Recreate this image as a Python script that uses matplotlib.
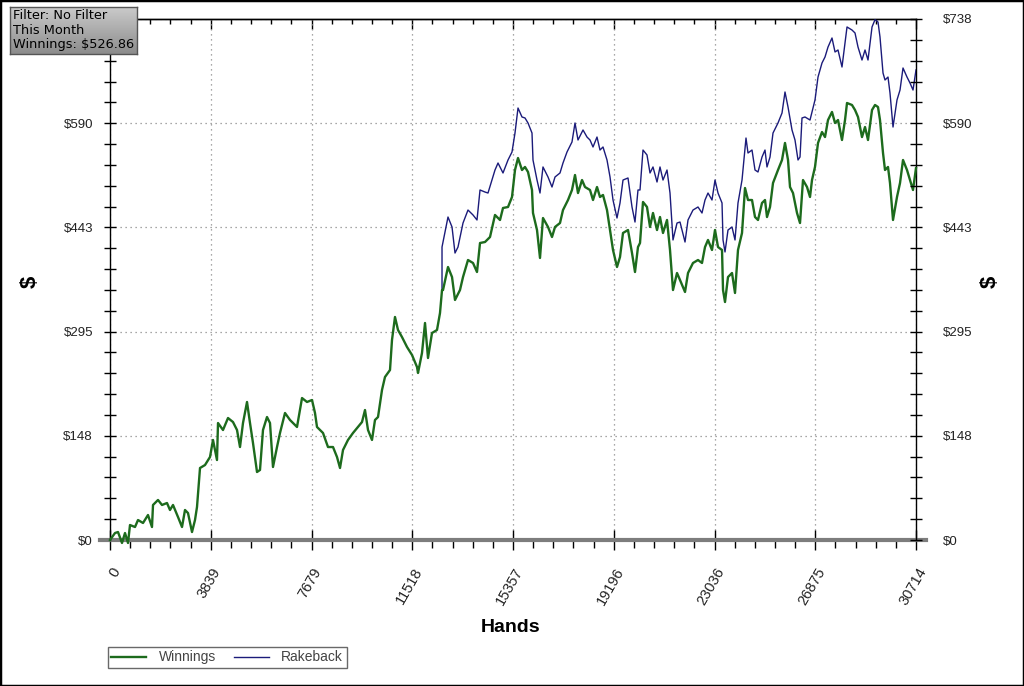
import matplotlib
matplotlib.use('Agg')
import matplotlib.pyplot as plt
import matplotlib.transforms as mtransforms
from matplotlib.colors import LinearSegmentedColormap
from matplotlib.lines import Line2D
from matplotlib.patches import Rectangle
from matplotlib.ticker import MultipleLocator
import numpy as np

plt.rcParams['font.family'] = ['Liberation Sans', 'DejaVu Sans']

# Cumulative winnings (green)
win_hands = [0, 191, 305, 457, 572, 686, 762, 953, 1067, 1258, 1448, 1600, 1639, 1829, 1982,
             2172, 2286, 2401, 2591, 2744, 2858, 2972, 3125, 3239, 3315, 3430, 3620, 3811, 3925,
             4077, 4116, 4306, 4497, 4687, 4840, 4954, 5068, 5221, 5335, 5449, 5602, 5716, 5830,
             5983, 6097, 6211, 6364, 6478, 6669, 6859,
             7126, 7317, 7507, 7698, 7812, 7888, 8117, 8307, 8498, 8650, 8765, 8879, 9069, 9260,
             9451, 9603, 9717, 9832, 9984, 10098, 10213, 10365, 10479, 10670, 10746, 10860, 10975,
             11127, 11318, 11508, 11699, 11737, 11889, 12004, 12118, 12270, 12461, 12575, 12652,
             12690, 12880, 13033, 13147, 13337, 13452, 13642, 13833, 13985, 14100, 14290, 14481,
             14671, 14862, 14976, 15167, 15319, 15433, 15548, 15700, 15814, 15929, 16081, 16119,
             16272, 16386, 16500, 16691, 16843, 16958, 17148, 17262, 17453, 17605, 17720, 17834,
             17987, 18101, 18291, 18406, 18558, 18672, 18787, 18939, 19054, 19168, 19320, 19435,
             19549, 19739, 19892, 20006, 20120,
             20197, 20311, 20463, 20578, 20692, 20845, 20959, 21073, 21226, 21340, 21454, 21607,
             21721, 21912, 22026, 22216, 22407, 22559, 22674, 22788, 22940, 23055, 23169, 23322,
             23360, 23436, 23550, 23703, 23817, 23931, 24084, 24198, 24312, 24465, 24579, 24693,
             24846, 24960, 25036, 25151, 25265, 25455, 25608, 25722, 25837, 25913, 26027, 26180,
             26294,
             26408, 26561, 26675, 26751, 26865, 26980, 27132, 27247, 27361, 27513, 27628, 27742,
             27894, 28009, 28085, 28275, 28390, 28504, 28656, 28771, 28885, 29038, 29152, 29266,
             29342, 29457, 29533, 29647, 29723, 29838, 29990, 30105, 30219, 30371, 30486, 30600,
             30714]
win_dollars = [0, 9.9, 11.3, -4.2, 9.9, -4.2, 21.2, 18.4, 28.3, 24.1, 35.4, 18.4, 49.6, 56.7, 49.6,
               52.4, 42.5, 49.6, 32.6, 18.4, 42.5, 38.2, 11.3, 28.3, 46.7, 102.0, 106.2, 117.6, 141.7,
               113.3, 165.7, 155.8, 172.8, 167.1, 155.8, 131.7, 165.7, 195.5, 165.7, 137.4, 96.3, 99.2,
               155.8, 174.2, 165.7, 103.4, 131.7, 151.6, 179.9, 170.0,
               160.1, 201.1, 195.5, 198.3, 179.9, 160.1, 151.6, 131.7, 131.7, 117.6, 102.0, 127.5,
               141.7, 151.6, 160.1, 167.1, 184.1, 155.8, 141.7, 170.0, 174.2, 212.5, 230.9, 240.8,
               283.3, 315.9, 297.5, 287.5, 273.4, 262.1, 245.1, 236.6, 264.9, 307.4, 257.8, 293.2,
               297.5, 321.5, 354.1,
               354.1, 386.7, 372.5, 340.0, 354.1, 372.5, 396.6, 392.4, 379.6, 420.7, 422.1, 429.2,
               460.4, 453.3, 470.3, 471.7, 485.9, 524.1, 541.1, 524.1, 528.4, 521.3, 495.8, 463.2,
               439.1, 399.5, 456.1, 443.4, 429.2, 443.4, 449.0, 467.4, 481.6, 495.8, 517.0, 491.5,
               509.9, 500.0, 495.8, 481.6, 500.0, 485.9, 488.7, 467.4, 439.1, 410.8, 386.7, 400.9,
               434.9, 439.1, 406.5, 379.6, 415.0,
               420.7, 478.8, 471.7, 443.4, 463.2, 439.1, 457.5, 434.9, 453.3, 410.8, 354.1, 378.2,
               368.3, 351.3, 378.2, 392.4, 396.6, 392.4, 415.0, 425.0, 410.8, 439.1, 415.0, 410.8,
               354.1, 337.1, 372.5, 378.2, 349.9, 410.8, 434.9, 498.6, 481.6, 481.6, 457.5, 453.3,
               477.4, 481.6, 457.5, 471.7, 505.7, 524.1, 538.3, 562.4, 538.3, 500.0, 491.5, 463.2,
               449.0,
               509.9, 500.0, 485.9, 509.9, 528.4, 562.4, 577.9, 570.8, 594.9, 606.3, 590.7, 594.9,
               566.6, 594.9, 619.0, 616.2, 609.1, 599.2, 570.8, 585.0, 566.6, 609.1, 616.2, 613.3,
               594.9, 548.2, 524.1, 528.4, 505.7, 453.3, 485.9, 505.7, 538.3, 524.1, 509.9, 495.8,
               526.86]

# Winnings + rakeback (navy), splits off from the green line around hand 12652
rb_hands = [12652, 12652,
            12690, 12880, 13033, 13147, 13261, 13452, 13642, 13833, 13985, 14100,
            14290, 14404, 14671, 14786, 14976, 15167, 15319, 15433, 15548, 15700,
            15814, 15929, 16081, 16119, 16272, 16386, 16500, 16691, 16843, 16958,
            17148, 17262, 17415, 17605, 17720, 17834, 18025, 18177, 18291, 18406,
            18558, 18672, 18787, 18939, 19054, 19168, 19320, 19435, 19549, 19739,
            19892, 20006, 20120, 20197, 20311, 20463, 20578, 20692, 20845, 20959,
            21073, 21226, 21340, 21454, 21607, 21721, 21912, 22026, 22216, 22407,
            22559, 22674, 22788, 22940, 23055, 23169, 23322, 23360, 23436, 23550,
            23703, 23817, 23931, 24084, 24236, 24312, 24465, 24579, 24693, 24846,
            24960, 25036, 25151, 25265, 25455, 25608, 25722, 25837, 25989, 26103,
            26218, 26294, 26370, 26484, 26675, 26865, 26980, 27132, 27247, 27361,
            27513, 27628, 27742, 27894, 28009, 28085, 28275, 28390, 28504, 28656,
            28771, 28885, 29038, 29152, 29266, 29342, 29457, 29533, 29647, 29723,
            29838, 29990, 30105, 30219, 30371, 30486, 30600, 30714]
rb_dollars = [354.1, 415.0,
              422.1, 457.5, 443.4, 406.5, 415.0, 449.0, 467.4, 460.4, 453.3, 495.8,
              492.9, 491.5, 524.1, 534.0, 519.9, 538.3, 549.6, 576.5, 611.9, 599.2,
              597.8, 590.7, 576.5, 538.3, 509.9, 491.5, 528.4, 514.2, 500.0, 514.2,
              519.9, 534.0, 549.6, 563.8, 590.7, 566.6, 580.8, 570.8, 566.6, 556.7,
              570.8, 552.4, 556.7, 538.3, 514.2, 481.6, 456.1, 477.4, 509.9, 512.8,
              471.7, 450.4, 495.8, 495.8, 552.4, 545.4, 519.9, 528.4, 507.1, 528.4,
              509.9, 524.1, 491.5, 425.0, 449.0, 450.4, 422.1, 453.3, 467.4, 471.7,
              463.2, 481.6, 491.5, 481.6, 509.9, 491.5, 477.4, 425.0, 408.0, 439.1,
              443.4, 425.0, 477.4, 509.9, 569.4, 548.2, 552.4, 524.1, 521.3, 542.5,
              552.4, 528.4, 542.5, 576.5, 590.7, 604.8, 634.6, 613.3, 580.8, 566.6,
              538.3, 542.5, 597.8, 599.2, 594.9, 623.3, 655.8, 675.7, 684.2, 698.3,
              711.1, 691.3, 694.1, 670.0, 704.0, 726.7, 722.4, 718.2, 698.3, 679.9,
              694.1, 679.9, 726.7, 737.0, 733.7, 712.5, 661.5, 651.6, 655.8, 633.2,
              585.0, 623.3, 637.4, 668.6, 655.8, 647.3, 637.4, 665.8]

x_max = 30714
y_max = 738
x_tick_labels = ['0', '3839', '7679', '11518', '15357', '19196', '23036', '26875', '30714']
y_tick_labels = ['$0', '$148', '$295', '$443', '$590', '$738']
filter_lines = ['Filter: No Filter', 'This Month', 'Winnings: $526.86']

GREEN = '#1d6b1d'
NAVY = '#1b1b7a'

fig = plt.figure(figsize=(10.24, 6.86), dpi=100)
fig.patch.set_facecolor('white')
ax = fig.add_axes([110 / 1024, 146 / 686, 806 / 1024, 521 / 686])

ax.plot(rb_hands, rb_dollars, color=NAVY, lw=1.0, zorder=3)
ax.plot(win_hands, win_dollars, color=GREEN, lw=1.7, zorder=4, clip_on=False)

ax.set_xlim(0, x_max)
ax.set_ylim(0, y_max)

xt = np.linspace(0, x_max, len(x_tick_labels))
yt = np.linspace(0, y_max, len(y_tick_labels))

ax.grid(True, which='major', color='#8a8a8a', linestyle=(0, (1, 3)), linewidth=0.9)
ax.set_axisbelow(True)

for s in ['left', 'right', 'top']:
    ax.spines[s].set_color('black')
    ax.spines[s].set_linewidth(1)
ax.spines['bottom'].set_visible(False)
# thick grey zero line, running a little past both axes
ax.plot([-0.012, 1.012], [0, 0], transform=ax.transAxes, color='#7d7d7d', lw=3,
        clip_on=False, zorder=2)

# x axis ticks (bottom)
ax.set_xticks(xt)
ax.set_xticklabels(x_tick_labels, rotation=60, ha='right', va='center',
                   rotation_mode='anchor', fontsize=10.5, color='#222222')
ax.xaxis.set_minor_locator(MultipleLocator(x_max / 40))
ax.tick_params(axis='x', which='major', direction='inout', length=15, width=1, pad=13)
ax.tick_params(axis='x', which='minor', direction='out', length=6, width=1)
shift = mtransforms.ScaledTranslation(7 / 100, 0, fig.dpi_scale_trans)
for lab in ax.get_xticklabels():
    lab.set_transform(lab.get_transform() + shift)

# top ticks
top = ax.secondary_xaxis('top')
top.set_xticks(xt)
top.xaxis.set_minor_locator(MultipleLocator(x_max / 40))
top.tick_params(which='major', direction='in', length=7, width=1, labeltop=False)
top.tick_params(which='minor', direction='in', length=3.6, width=1)
top.spines['top'].set_linewidth(1)

# y axis ticks (left + right); the left top label sits under the filter box
ax.set_yticks(yt)
ax.set_yticklabels(y_tick_labels[:-1] + [''], fontsize=9.5, color='#222222')
ax.yaxis.set_minor_locator(MultipleLocator(y_max / 25))
ax.tick_params(axis='y', which='both', direction='inout', length=8.5, width=1, pad=8)

ax2 = ax.twinx()
ax2.set_ylim(0, y_max)
ax2.set_yticks(yt)
ax2.set_yticklabels(y_tick_labels, fontsize=9.5, color='#222222')
ax2.yaxis.set_minor_locator(MultipleLocator(y_max / 25))
ax2.tick_params(axis='y', which='both', direction='inout', length=8.5, width=1, pad=15)
for s in ax2.spines.values():
    s.set_visible(False)

fig.text(30 / 1024, 1 - 282 / 686, '$', rotation=90, fontsize=16, fontweight='bold',
         ha='center', va='center')
fig.text(990 / 1024, 1 - 282 / 686, '$', rotation=90, fontsize=16, fontweight='bold',
         ha='center', va='center')
fig.text(511 / 1024, 1 - 627 / 686, 'Hands', fontsize=14, fontweight='bold',
         ha='center', va='center')

handles = [Line2D([], [], color=GREEN, lw=1.7), Line2D([], [], color=NAVY, lw=1.0)]
leg = fig.legend(handles, ['Winnings', 'Rakeback'], loc='upper left',
                 bbox_to_anchor=(108 / 1024, 1 - 647 / 686), ncol=2, frameon=True,
                 fancybox=False, edgecolor='#444444', fontsize=10, handlelength=2.5,
                 borderpad=0.25, columnspacing=1.3, handletextpad=0.9, borderaxespad=0)
leg.get_frame().set_linewidth(1)
for t in leg.get_texts():
    t.set_color('#444444')

# filter box with grey gradient
bx = fig.add_axes([10 / 1024, 1 - 54 / 686, 127 / 1024, 47 / 686])
grad = np.linspace(0, 1, 64).reshape(-1, 1)
cmap = LinearSegmentedColormap.from_list('box', ['#cacaca', '#8c8c8c'])
bx.imshow(grad, aspect='auto', cmap=cmap, extent=(0, 1, 0, 1), origin='upper')
bx.set_xlim(0, 1)
bx.set_ylim(0, 1)
bx.set_xticks([])
bx.set_yticks([])
for s in bx.spines.values():
    s.set_color('#555555')
    s.set_linewidth(1)
for i, line in enumerate(filter_lines):
    bx.text(0.025, 0.82 - i * 0.31, line, fontsize=9.3, family='DejaVu Sans',
            color='black', ha='left', va='center', transform=bx.transAxes)

fig.patches.append(Rectangle((0, 0), 1, 1, transform=fig.transFigure, fill=False,
                             edgecolor='black', lw=2.5))

fig.savefig('out.png', dpi=100)
